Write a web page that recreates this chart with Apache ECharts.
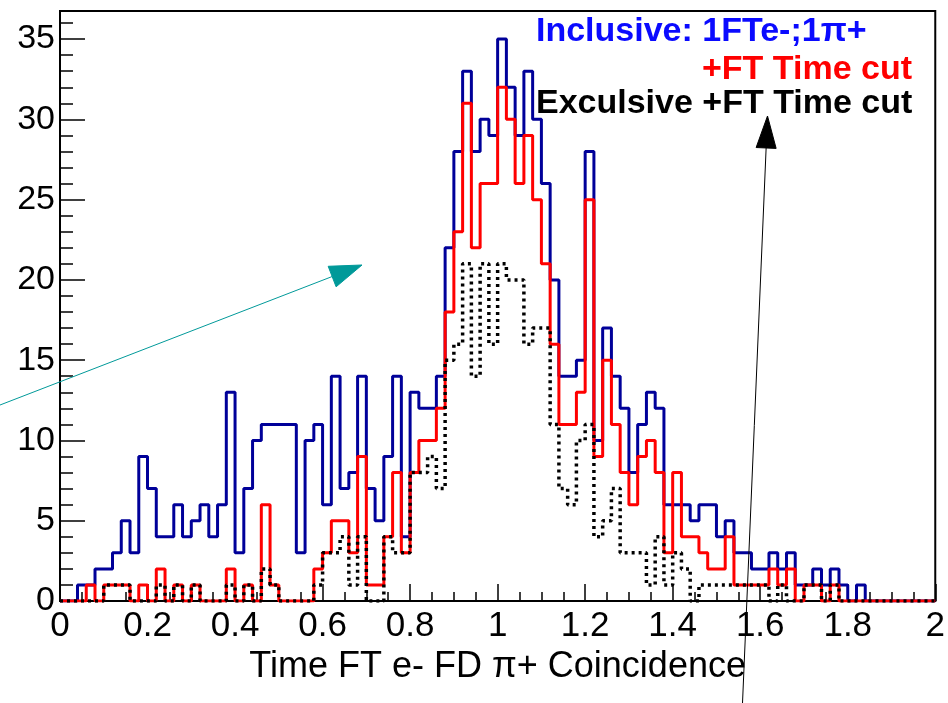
<!DOCTYPE html>
<html>
<head>
<meta charset="utf-8">
<script src="https://cdn.jsdelivr.net/npm/echarts@6/dist/echarts.min.js"></script>
<style>
  html, body { margin: 0; padding: 0; background: #ffffff; }
  #chart { width: 948px; height: 703px; }
</style>
</head>
<body>
<div id="chart"></div>
<script>
// Histogram binning: 100 bins of width 0.02 on [0, 2]
const binLow = 0;
const binWidth = 0.02;

// Inclusive: 1FTe-;1pi+  (counts per bin)
const inclusive = [
  0, 0, 1, 1, 2, 2, 3, 5, 3, 9,
  7, 4, 4, 6, 4, 5, 6, 4, 6, 13,
  3, 7, 10, 11, 11, 11, 11, 3, 10, 11,
  6, 14, 7, 8, 14, 7, 5, 9, 14, 4,
  13, 12, 12, 14, 22, 28, 33, 28, 30, 29,
  35, 32, 29, 33, 30, 26, 20, 14, 14, 15,
  28, 10, 17, 14, 12, 8, 11, 13, 12, 6,
  6, 6, 5, 6, 6, 4, 5, 3, 3, 2,
  2, 3, 2, 3, 1, 1, 2, 1, 2, 1,
  0, 1, 0, 0, 0, 0, 0, 0, 0, 0
];

// +FT Time cut
const timeCut = [
  0, 0, 0, 1, 0, 1, 1, 1, 0, 1,
  0, 2, 0, 1, 0, 1, 0, 0, 0, 2,
  0, 1, 0, 6, 1, 0, 0, 0, 0, 2,
  3, 5, 5, 3, 9, 1, 1, 4, 8, 3,
  8, 10, 10, 12, 18, 23, 31, 22, 26, 26,
  32, 30, 26, 29, 25, 21, 16, 11, 11, 13,
  25, 9, 15, 11, 8, 6, 9, 10, 8, 3,
  8, 4, 4, 3, 2, 2, 4, 1, 1, 1,
  1, 2, 1, 2, 0, 1, 1, 0, 1, 0,
  0, 0, 0, 0, 0, 0, 0, 0, 0, 0
];

// Exculsive +FT Time cut
const exclusive = [
  0, 0, 0, 0, 0, 1, 1, 1, 0, 0,
  0, 1, 0, 1, 0, 1, 0, 0, 0, 1,
  0, 1, 0, 2, 1, 0, 0, 0, 0, 1,
  3, 3, 4, 1, 4, 0, 0, 4, 3, 3,
  8, 8, 9, 7, 15, 16, 21, 14, 21, 16,
  21, 20, 20, 16, 17, 17, 11, 7, 6, 10,
  11, 4, 5, 7, 3, 3, 3, 1, 4, 1,
  3, 2, 0, 1, 1, 1, 1, 1, 1, 1,
  1, 0, 1, 0, 0, 1, 1, 0, 1, 0,
  0, 0, 0, 0, 0, 0, 0, 0, 0, 0
];

const xAxisTitle = 'Time FT e- FD \u03c0+ Coincidence';
const legendLines = ['Inclusive: 1FTe-;1\u03c0+', '+FT Time cut', 'Exculsive +FT Time cut'];

const xMin = 0, xMax = 2, xStep = 0.2;
const yMin = 0, yMax = 36.75, yStep = 5;

// Turn bin contents into step-line points at the bin low edges,
// closing the last bin at the upper edge of the axis.
function histPoints(counts) {
  const pts = counts.map((c, i) => [binLow + i * binWidth, c]);
  pts.push([binLow + counts.length * binWidth, counts[counts.length - 1]]);
  return pts;
}

const FONT = 'Liberation Sans, Arial, Helvetica, sans-serif';

// Filled-head arrow drawn as a line plus a triangle
function arrow(x1, y1, x2, y2, headLen, headHalf, color, width) {
  const dx = x2 - x1, dy = y2 - y1;
  const L = Math.hypot(dx, dy);
  const ux = dx / L, uy = dy / L;
  const nx = -uy, ny = ux;
  const bx = x2 - headLen * ux, by = y2 - headLen * uy;
  return [
    { type: 'line', silent: true, z: 50,
      shape: { x1: x1, y1: y1, x2: bx, y2: by },
      style: { stroke: color, lineWidth: width } },
    { type: 'polygon', silent: true, z: 50,
      shape: { points: [[x2, y2], [bx + headHalf * nx, by + headHalf * ny], [bx - headHalf * nx, by - headHalf * ny]] },
      style: { fill: color, stroke: color, lineWidth: 1 } }
  ];
}

const chart = echarts.init(document.getElementById('chart'), null, { renderer: 'canvas' });

const option = {
  animation: false,
  backgroundColor: '#ffffff',
  grid: {
    left: 60, right: 12, top: 11, bottom: 102,
    show: true, borderColor: '#000000', borderWidth: 2, backgroundColor: 'transparent'
  },
  xAxis: {
    type: 'value', min: xMin, max: xMax, interval: xStep,
    name: xAxisTitle, nameLocation: 'middle', nameGap: 44,
    nameTextStyle: { fontFamily: FONT, fontSize: 36, color: '#000000' },
    axisLine: { show: true, onZero: false, lineStyle: { color: '#000000', width: 2 } },
    axisTick: { show: true, inside: true, length: 17, lineStyle: { color: '#000000', width: 1.5 } },
    minorTick: { show: true, splitNumber: 4, length: 9, lineStyle: { color: '#000000', width: 1.5 } },
    splitLine: { show: false },
    axisLabel: { margin: 8, fontFamily: FONT, fontSize: 35, color: '#000000' }
  },
  yAxis: {
    type: 'value', min: yMin, max: yMax, interval: yStep,
    axisLine: { show: true, onZero: false, lineStyle: { color: '#000000', width: 2 } },
    axisTick: { show: true, inside: true, length: 25, lineStyle: { color: '#000000', width: 1.5 } },
    minorTick: { show: true, splitNumber: 5, length: 13, lineStyle: { color: '#000000', width: 1.5 } },
    splitLine: { show: false },
    axisLabel: { margin: 5, fontFamily: FONT, fontSize: 34, color: '#000000', showMaxLabel: false }
  },
  series: [
    {
      name: legendLines[0], type: 'line', step: 'end', symbol: 'none',
      data: histPoints(inclusive),
      lineStyle: { color: '#000099', width: 3 }, z: 3
    },
    {
      name: legendLines[1], type: 'line', step: 'end', symbol: 'none',
      data: histPoints(timeCut),
      lineStyle: { color: '#ff0000', width: 3 }, z: 4
    },
    {
      name: legendLines[2], type: 'line', step: 'end', symbol: 'none',
      data: histPoints(exclusive),
      lineStyle: { color: '#000000', width: 3.5, type: [3, 4] }, z: 5
    }
  ],
  graphic: [
    { type: 'text', z: 60, x: 536, y: 15,
      style: { text: legendLines[0], font: 'bold 34px ' + FONT, fill: '#0a0aff', textVerticalAlign: 'top' } },
    { type: 'text', z: 60, x: 912, y: 53,
      style: { text: legendLines[1], font: 'bold 34px ' + FONT, fill: '#ff0000', textAlign: 'right', textVerticalAlign: 'top' } },
    { type: 'text', z: 60, x: 536, y: 87,
      style: { text: legendLines[2], font: 'bold 34px ' + FONT, fill: '#000000', textVerticalAlign: 'top' } }
  ]
    .concat(arrow(0, 405, 362, 265, 32, 11, '#009999', 1))
    .concat(arrow(742.5, 703, 767.5, 116, 32, 10, '#000000', 1))
};

chart.setOption(option);
</script>
</body>
</html>
